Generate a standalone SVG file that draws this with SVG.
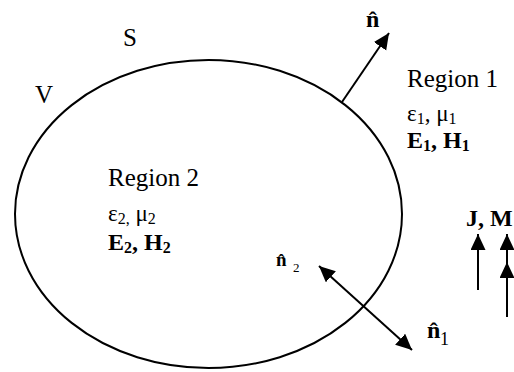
<svg xmlns="http://www.w3.org/2000/svg" width="514" height="372" viewBox="0 0 514 372">
<style>
text{fill:#000}
.b{font-weight:bold}
.ln{stroke:#000;stroke-width:2;fill:none}
</style>
<defs>
<marker id="ah" markerUnits="userSpaceOnUse" markerWidth="18" markerHeight="16" refX="16" refY="7.5" orient="auto-start-reverse" viewBox="0 0 18 16">
<path d="M0,0 L16,7.5 L0,15 Z" fill="#000"/>
</marker>
</defs>
<rect width="514" height="372" fill="#fff"/>
<g font-family="Liberation Serif, DejaVu Serif, serif">
<g id="surface">
<ellipse class="ln" cx="208.5" cy="214" rx="193.5" ry="154"/>
<text x="123" y="46" font-size="25">S</text>
<text x="35" y="103" font-size="25">V</text>
</g>
<g id="region1">
<text x="407" y="87" font-size="25">Region 1</text>
<text x="407" y="121" font-size="23">ε<tspan font-size="16" dy="3">1</tspan><tspan dy="-3">, μ</tspan><tspan font-size="16" dy="3">1</tspan></text>
<text class="b" x="407" y="148" font-size="24">E<tspan font-size="16" dy="3">1</tspan><tspan dy="-3">, H</tspan><tspan font-size="16" dy="3">1</tspan></text>
</g>
<g id="region2">
<text x="108" y="186" font-size="25">Region 2</text>
<text x="108" y="221" font-size="23">ε<tspan font-size="16" dy="3">2,</tspan><tspan dy="-3"> μ</tspan><tspan font-size="16" dy="3">2</tspan></text>
<text class="b" x="108" y="250" font-size="24">E<tspan font-size="16" dy="3">2</tspan><tspan dy="-3">, H</tspan><tspan font-size="16" dy="3">2</tspan></text>
</g>
<g id="sources">
<text class="b" x="466" y="226" font-size="24">J, M</text>
</g>
<g id="normals">
<text class="b" x="366" y="27" font-size="24">n̂</text>
<text class="b" x="276" y="266" font-size="19">n̂<tspan x="293" y="272" font-size="13" font-weight="normal">2</tspan></text>
<text class="b" x="427" y="338" font-size="24">n̂<tspan x="440" y="345" font-size="18" font-weight="normal">1</tspan></text>
</g>
</g>
<g id="connectors">
<line class="ln" x1="342" y1="102" x2="389" y2="33" marker-end="url(#ah)"/>
<line class="ln" x1="319" y1="266" x2="412" y2="350" marker-start="url(#ah)" marker-end="url(#ah)"/>
<line class="ln" x1="478" y1="290" x2="478" y2="234" marker-end="url(#ah)"/>
<polyline class="ln" points="507,317 507,262 507,234" marker-mid="url(#ah)" marker-end="url(#ah)"/>
</g>
</svg>
